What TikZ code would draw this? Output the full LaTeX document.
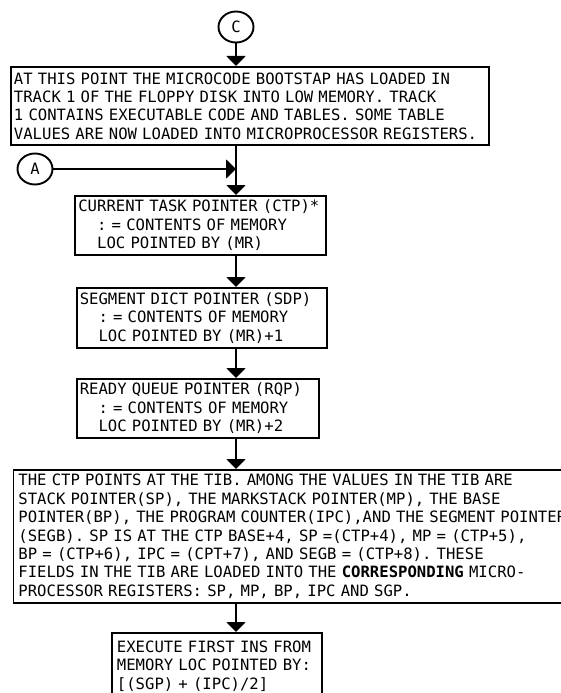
\documentclass[tikz,border=0pt]{standalone}
\usepackage{fontspec}
\setmonofont{DejaVu Sans Mono}
\usepackage{tikz}
\usetikzlibrary{arrows.meta,shapes.geometric}
\def\ind{\hphantom{XX}}
\def\monospace{\frenchspacing\spaceskip=\fontcharwd\font`X\relax}

\begin{document}
\begin{tikzpicture}[x=1pt,y=-1pt,line width=1.9pt,
    font=\ttfamily\fontsize{15.6}{18.4}\selectfont\monospace,
    box/.style={draw,rectangle,anchor=north west,align=left,inner xsep=3pt,inner ysep=0pt},
    conn/.style={draw,ellipse,minimum width=35pt,minimum height=31pt,inner sep=0pt},
    flow/.style={-{Triangle[width=19pt,length=10pt]}}]%<<<
\useasboundingbox (0,0) rectangle (561,693);
\clip (0,0) rectangle (561,693);
\coordinate (spine) at (236,0);
\node[conn] (c) at (236,27) {C};
\node[box,text width=472pt,minimum height=78pt] (boot) at (10,66)
  {AT THIS POINT THE MICROCODE BOOTSTAP HAS LOADED IN\\
   TRACK 1 OF THE FLOPPY DISK INTO LOW MEMORY. TRACK\\
   1 CONTAINS EXECUTABLE CODE AND TABLES. SOME TABLE\\
   VALUES ARE NOW LOADED INTO MICROPROCESSOR REGISTERS.};
\node[conn] (a) at (35,169) {A};
\node[box,text width=245pt,minimum height=59pt] (ctp) at (74.4,195)
  {CURRENT TASK POINTER (CTP)*\\
   \ind: = CONTENTS OF MEMORY\\
   \ind LOC POINTED BY (MR)};
\node[box,text width=244.5pt,minimum height=60pt] (sdp) at (75.8,287)
  {SEGMENT DICT POINTER (SDP)\\
   \ind: = CONTENTS OF MEMORY\\
   \ind LOC POINTED BY (MR)+1};
\node[box,text width=236.6pt,minimum height=59pt] (rqp) at (75.8,378)
  {READY QUEUE POINTER (RQP)\\
   \ind: = CONTENTS OF MEMORY\\
   \ind LOC POINTED BY (MR)+2};
\node[box,inner xsep=5pt,text width=570pt,minimum height=133pt] (tib) at (12.5,469)
  {THE CTP POINTS AT THE TIB. AMONG THE VALUES IN THE TIB ARE\\
   STACK POINTER(SP), THE MARKSTACK POINTER(MP), THE BASE\\
   POINTER(BP), THE PROGRAM COUNTER(IPC),AND THE SEGMENT POINTER\\
   (SEGB). SP IS AT THE CTP BASE+4, SP =(CTP+4), MP = (CTP+5),\\
   BP = (CTP+6), IPC = (CPT+7), AND SEGB = (CTP+8). THESE\\
   FIELDS IN THE TIB ARE LOADED INTO THE \textbf{CORRESPONDING} MICRO-\\
   PROCESSOR REGISTERS: SP, MP, BP, IPC AND SGP.};
\node[box,inner xsep=5pt,text width=200pt,minimum height=66pt] (exec) at (111,632)
  {EXECUTE FIRST INS FROM\\
   MEMORY LOC POINTED BY:\\
   {[}(SGP) + (IPC)/2]};
\draw[flow] (c) -- (c |- boot.north);
\draw[flow] (a) -- (a -| spine);
\draw[flow] (boot.south -| spine) -- (ctp.north -| spine);
\draw[flow] (ctp.south -| spine) -- (sdp.north -| spine);
\draw[flow] (sdp.south -| spine) -- (rqp.north -| spine);
\draw[flow] (rqp.south -| spine) -- (tib.north -| spine);
\draw[flow] (tib.south -| spine) -- (exec.north -| spine);
\end{tikzpicture}
\end{document}
